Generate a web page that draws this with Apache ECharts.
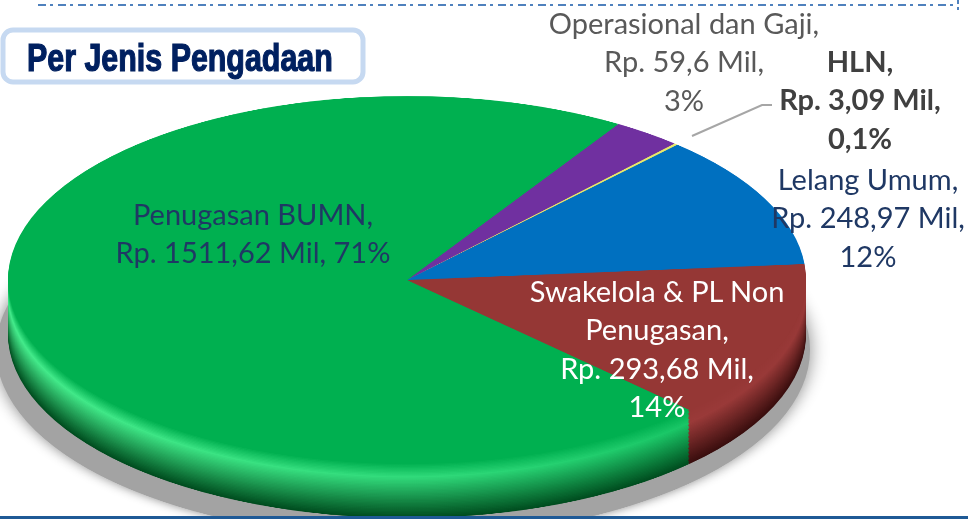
<!DOCTYPE html>
<html>
<head>
<meta charset="utf-8">
<script src="https://cdn.jsdelivr.net/npm/echarts@6/dist/echarts.min.js"></script>
<style>
  html, body { margin: 0; padding: 0; background: #fff; }
  body { width: 968px; height: 519px; overflow: hidden; position: relative; }
  #pie { position: absolute; left: 0; top: 0; width: 968px; transform-origin: 0 0; }
  #labels { position: absolute; left: 0; top: 0; width: 968px; height: 519px; }
</style>
</head>
<body>
<div id="pie"></div>
<div id="labels"></div>
<script>
// data pengadaan (Rp. Mil)
const names = ['Operasional dan Gaji', 'HLN', 'Lelang Umum', 'Swakelola & PL Non\nPenugasan', 'Penugasan BUMN'];
const values = [59.6, 3.09, 248.97, 293.68, 1511.62];
const pctText = ['3%', '0,1%', '12%', '14%', '71%'];
const title = 'Per Jenis Pengadaan';

// warna tiap irisan: atas, sorot, gelap
const topColors = ['#7030a0', '#e8e86a', '#0070c0', '#953735', '#00b050'];
const hiColors = ['#8c4cc4', '#ffff99', '#2a8ee0', '#a34040', '#45ec8c'];
const darkColors = ['#3a1060', '#8a8a30', '#003a70', '#3a0e0e', '#004d1f'];

// ukuran elips (layar)
const K = 184 / 399;          // perbandingan tinggi / lebar
const R = 399;                // jari-jari horizontal
const CX = 407, CY = 280;     // pusat muka atas
const THICK = 54;             // tebal piringan
const H = Math.ceil(560 / K);

function hex2rgb(h) {
  return [parseInt(h.substr(1, 2), 16), parseInt(h.substr(3, 2), 16), parseInt(h.substr(5, 2), 16)];
}
function mixRgb(a, b, t) {
  return a.map((v, i) => Math.round(v + (b[i] - v) * t));
}
// warna sisi untuk lapisan u (0 atas .. 1 bawah) dan cahaya (0..1)
function sideColor(i, u, light) {
  const base = hex2rgb(topColors[i]);
  const hi = mixRgb(base, hex2rgb(hiColors[i]), light);
  const dark = hex2rgb(darkColors[i]);
  let c;
  if (u < 0.25) c = mixRgb(base, hi, u / 0.25);
  else c = mixRgb(hi, dark, (u - 0.25) / 0.75);
  return 'rgb(' + c.join(',') + ')';
}

const pieDom = document.getElementById('pie');
pieDom.style.height = H + 'px';
pieDom.style.transform = 'scaleY(' + K + ')';

const myChart = echarts.init(pieDom, null, { renderer: 'canvas' });
const myChart1 = echarts.init(document.getElementById('labels'), null, { renderer: 'svg' });

const cyDiv = CY / K;
const thickDiv = THICK / K;
const N = 40;
const series = [];

// bayangan
series.push({
  type: 'pie',
  radius: R + 8,
  center: [CX - 4, cyDiv + thickDiv + 16 / K],
  silent: true,
  animation: false,
  label: { show: false },
  labelLine: { show: false },
  emphasis: { disabled: true },
  z: 1,
  itemStyle: { color: '#a3a3a3', shadowBlur: 18, shadowColor: 'rgba(140,140,140,1)' },
  data: [{ name: 'bayangan', value: 1 }]
});

// lapisan sisi dari bawah ke atas
for (let n = N; n >= 0; n--) {
  const u = n / N;
  series.push({
    type: 'pie',
    radius: R,
    center: [CX, cyDiv + thickDiv * u],
    startAngle: 58,
    clockwise: true,
    minAngle: 0,
    avoidLabelOverlap: false,
    silent: true,
    animation: false,
    label: { show: false },
    labelLine: { show: false },
    emphasis: { disabled: true },
    z: 2 + (N - n),
    data: values.map((v, i) => ({
      name: names[i],
      value: v,
      itemStyle: {
        color: n === 0 ? topColors[i] : {
          type: 'linear', x: 0, y: 0, x2: 968, y2: 0, global: true,
          colorStops: [
            { offset: 0, color: sideColor(i, u, 1) },
            { offset: 0.45, color: sideColor(i, u, 0.7) },
            { offset: 1, color: sideColor(i, u, 0) }
          ]
        }
      }
    }))
  });
}

myChart.setOption({ animation: false, series: series });

// teks label
const fmt = v => 'Rp. ' + String(v).replace('.', ',') + ' Mil';
const sep = [',\n', ',\n', ',\n', ',\n', ', '];
const labelPos = [[684, 3], [860, 41], [868, 159], [657, 271], [253, 194]];
const labelColor = ['#595959', '#404040', '#1f3864', '#ffffff', '#1f3864'];
const labelWeight = ['normal', 'bold', 'normal', 'normal', 'normal'];

const graphics = [
  // garis putus-putus atas
  { type: 'line', shape: { x1: 38, y1: 5, x2: 958, y2: 5 },
    style: { stroke: '#4f81bd', lineWidth: 2, lineDash: [8, 4, 3, 5] } },
  { type: 'line', shape: { x1: 958, y1: 0, x2: 958, y2: 10 },
    style: { stroke: '#4f81bd', lineWidth: 2, lineDash: [4, 3] } },
  // garis bawah
  { type: 'line', shape: { x1: 0, y1: 517.5, x2: 968, y2: 517.5 },
    style: { stroke: '#1f5a96', lineWidth: 3 } },
  // kotak judul
  { type: 'rect', shape: { x: 3, y: 30, width: 360, height: 52, r: 10 },
    style: { fill: '#ffffff', stroke: '#c6d9f1', lineWidth: 5 } },
  { type: 'text', x: 27, y: 58, scaleX: 0.8,
    style: {
      text: title, x: 0, y: 0, verticalAlign: 'middle', fill: '#002060',
      stroke: '#002060', lineWidth: 1.2,
      font: 'bold 38px "Liberation Sans", Arial, sans-serif'
  } },
  // garis penunjuk HLN
  { type: 'polyline', shape: { points: [[692, 136], [762, 105], [772, 105]] },
    style: { stroke: '#a6a6a6', lineWidth: 2, fill: null } }
];

values.forEach((v, i) => {
  graphics.push({
    type: 'text',
    style: {
      text: names[i] + ',\n' + fmt(v) + sep[i] + pctText[i],
      x: labelPos[i][0], y: labelPos[i][1],
      align: 'center', verticalAlign: 'top',
      lineHeight: 38.5,
      fill: labelColor[i],
      font: labelWeight[i] + ' 29px Lato, "Open Sans", sans-serif'
    }
  });
});

myChart1.setOption({ animation: false, graphic: graphics });
</script>
</body>
</html>
